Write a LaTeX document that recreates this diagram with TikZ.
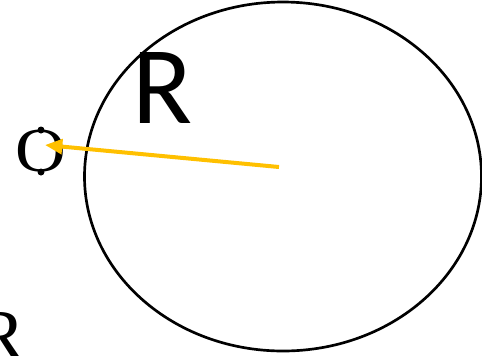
\documentclass[tikz,border=0pt]{standalone}
\usepackage{fontspec}
\newfontfamily\ringfont{Carlito}
\newfontfamily\ptfont{Liberation Serif}
\usepackage{tikz}
\usetikzlibrary{arrows.meta, positioning}
\tikzset{
  ax ring/.style={draw=black, line width=2pt},
  ax ray/.style={draw=axyellow, -{Triangle[length=13pt, width=11pt]}, line width=3pt},
  ax big/.style={inner sep=0pt, font=\ringfont\fontsize{83}{83}\selectfont},
  ax pt/.style={inner sep=0pt, font=\ptfont\fontsize{47}{47}\selectfont},
  ax dot/.style={fill=black},
}
\definecolor{axyellow}{HTML}{FFC000}

\begin{document}
\begin{tikzpicture}[x=0.75pt, y=-0.75pt]
 \useasboundingbox (0,0) rectangle (482,355);
 \coordinate (c) at (279,167);
 \coordinate (tip) at (45,145);
 \draw[ax ring] (283,176.5) ellipse [x radius=198.5, y radius=174.5];
 \node[ax big] (R) at (163,88) {R};
 \node[ax pt] (O) at (41,151) {\scalebox{1.12}[1]{O}};
 \node[ax pt, font=\ptfont\fontsize{55}{55}\selectfont] (R2) at (1,336) {R};
 \fill[ax dot] (41,130) circle [radius=3.5];
 \fill[ax dot] (41,172) circle [radius=3.5];
 \draw[ax ray] (c) -- (tip);
\end{tikzpicture}
\end{document}
